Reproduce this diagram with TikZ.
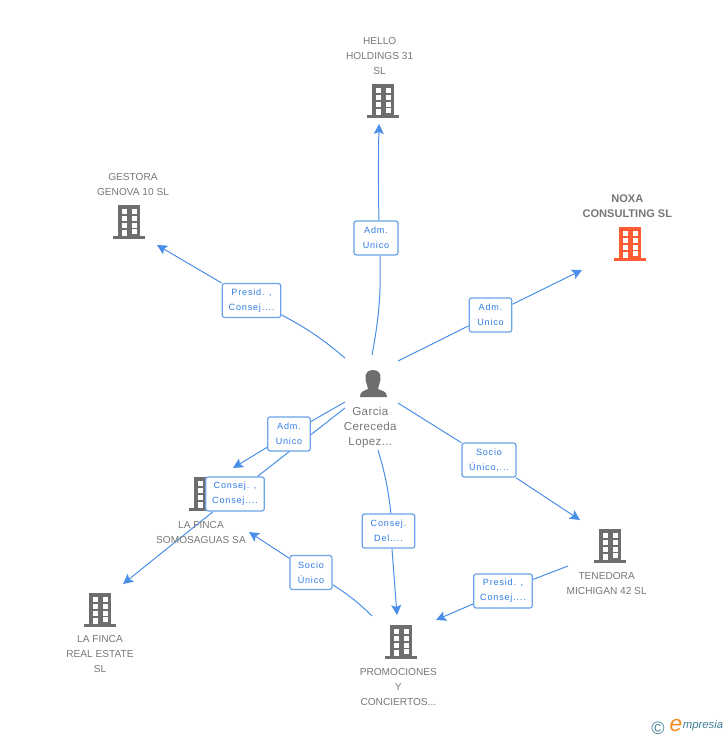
\documentclass[tikz,border=0pt]{standalone}
\usepackage{fontspec}
\setmainfont{Liberation Sans}
\newfontfamily\tagfont[LetterSpace=9]{Liberation Sans}
\newfontfamily\namefont[LetterSpace=3]{Liberation Sans}
\usepackage{xcolor}
\usetikzlibrary{arrows.meta, positioning, backgrounds}
\definecolor{linkblue}{HTML}{4A8FE7}
\definecolor{tagblue}{HTML}{2F7BE0}
\definecolor{tagedge}{HTML}{6CA3EA}
\definecolor{icongray}{HTML}{6E6E6E}
\definecolor{labelgray}{HTML}{777777}
\definecolor{iconorange}{HTML}{FF5C33}
\definecolor{logoteal}{HTML}{3F7F95}
\definecolor{logoorange}{HTML}{F28A1E}

\tikzset{
  pics/buildingicon/.style={code={
    \fill[#1] (-11,-17) rectangle (11,14);
    \fill[#1] (-16,14) rectangle (16,17);
    \foreach \yy in {-13,-6,1} {
      \fill[white] (-7.5,\yy) rectangle (-2.5,\yy+4.5);
      \fill[white] (2.5,\yy) rectangle (7.5,\yy+4.5);
    }
    \fill[white] (2.5,7) rectangle (7.5,11.5);
    \fill[white] (-7.5,8) rectangle (-2.5,14);
  }}
}

\begin{document}
\begin{tikzpicture}[
    x=0.75pt, y=-0.75pt,
    iconspot/.style={minimum width=24pt, minimum height=26pt, inner sep=0pt},
    company/.style={font=\fontsize{7.6}{11.25}\selectfont, text=labelgray, align=center, inner sep=0pt},
    tagbox/.style={draw=tagedge, line width=0.9pt, rounded corners=1.8pt, fill=white, text=tagblue, align=center,
      font=\tagfont\fontsize{6.8}{11.25}\selectfont, inner sep=0pt, minimum height=25.5pt},
    link/.style={draw=linkblue, line width=0.75pt},
    arrow/.style={link, -{Stealth[inset=1.5pt, length=7.5pt, width=7.5pt]}}
  ]
  \useasboundingbox (0,0) rectangle (728,740);

  \node (personspot) [iconspot] at (373,384) {};
  \fill[icongray] (373,370) .. controls (379,370) and (381,374) .. (380.5,379) .. controls (380,384) and (378,386) .. (378,389)
    .. controls (382,391) and (387,391) .. (387,397) -- (360,397)
    .. controls (360,391) and (364,391) .. (368,389) .. controls (368,386) and (366,384) .. (365.5,379)
    .. controls (365,374) and (367,370) .. (373,370) -- cycle;
  \node (person) [below=3.6pt of personspot, font=\namefont\fontsize{8.7}{11.4}\selectfont, text=labelgray, align=center, inner sep=0pt, xshift=-2pt] {Garcia\\Cereceda\\Lopez...};

  \node (hellospot) [iconspot] at (383,101) {};
  \pic at (hellospot) {buildingicon=icongray};
  \node (hello) [company, above=6.5pt of hellospot, xshift=-2.5pt] {HELLO\\HOLDINGS 31\\SL};

  \node (gestoraspot) [iconspot] at (129,222) {};
  \pic at (gestoraspot) {buildingicon=icongray};
  \node (gestora) [company, above=6.5pt of gestoraspot, xshift=3pt] {GESTORA\\GENOVA 10 SL};

  \node (noxaspot) [iconspot] at (630,244) {};
  \pic at (noxaspot) {buildingicon=iconorange};
  \node (noxa) [company, above=6.5pt of noxaspot, xshift=-2pt, font=\bfseries\fontsize{8.3}{11.25}\selectfont] {NOXA\\CONSULTING SL};

  \node (somosspot) [iconspot] at (205,494) {};
  \pic at (somosspot) {buildingicon=icongray};
  \node (somos) [company, below=7.2pt of somosspot, xshift=-3pt] {LA FINCA\\SOMOSAGUAS SA};

  \node (realspot) [iconspot] at (100,610) {};
  \pic at (realspot) {buildingicon=icongray};
  \node (real) [company, below=6pt of realspot] {LA FINCA\\REAL ESTATE\\SL};

  \node (tenedoraspot) [iconspot] at (610,546) {};
  \pic at (tenedoraspot) {buildingicon=icongray};
  \node (tenedora) [company, below=6.5pt of tenedoraspot, xshift=-2.5pt] {TENEDORA\\MICHIGAN 42 SL};

  \node (promospot) [iconspot] at (401,642) {};
  \pic at (promospot) {buildingicon=icongray};
  \node (promo) [company, below=6.2pt of promospot, xshift=-2pt] {PROMOCIONES\\Y\\CONCIERTOS...};

  \node (admhello) [tagbox, minimum width=33pt] at (376,238) {Adm.\\Unico};
  \node (presgestora) [tagbox, minimum width=44pt] at (251.5,300.5) {Presid. ,\\Consej....};
  \node (admnoxa) [tagbox, minimum width=32pt] at (490.5,315) {Adm.\\Unico};
  \node (sociotene) [tagbox, minimum width=40.5pt] at (489,460) {Socio\\Único,...};
  \node (admsomos) [tagbox, minimum width=32pt] at (289,434) {Adm.\\Unico};
  \node (consreal) [tagbox, minimum width=44pt] at (235,494) {Consej. ,\\Consej....};
  \node (consdel) [tagbox, minimum width=39.5pt] at (388.5,531) {Consej.\\Del....};
  \node (sociosomos) [tagbox, minimum width=31.5pt] at (311,572.5) {Socio\\Único};
  \node (prespromo) [tagbox, minimum width=44pt] at (503,591) {Presid. ,\\Consej....};

  \coordinate (hellofrom) at (372,355);
  \coordinate (helloto) at (379,124);
  \coordinate (gestorafrom) at (345,358);
  \coordinate (gestorato) at (157,245);
  \coordinate (noxafrom) at (398,361);
  \coordinate (noxato) at (582,270);
  \coordinate (tenefrom) at (398,403);
  \coordinate (teneto) at (580,520);
  \coordinate (somosfrom) at (345,402);
  \coordinate (somosto) at (233,468);
  \coordinate (realfrom) at (345,408);
  \coordinate (realto) at (123,584);
  \coordinate (delfrom) at (378,450);
  \coordinate (delto) at (397,615);
  \coordinate (sociofrom) at (372,616);
  \coordinate (socioto) at (249,532);
  \coordinate (presfrom) at (568,566);
  \coordinate (presto) at (436,620);

  \begin{scope}[on background layer]
    \draw[link] (hellofrom) to[bend right=6] ([xshift=3pt]admhello.south);
    \draw[arrow] ([xshift=2.2pt]admhello.north) to[bend left=1] (helloto);
    \draw[link] (gestorafrom) to[bend right=6] (presgestora);
    \draw[arrow] (presgestora) -- (gestorato);
    \draw[link] (noxafrom) -- (admnoxa);
    \draw[arrow] (admnoxa) -- (noxato);
    \draw[link] (tenefrom) -- (sociotene);
    \draw[arrow] (sociotene) -- (teneto);
    \draw[link] (somosfrom) -- (admsomos);
    \draw[arrow] (admsomos) -- (somosto);
    \draw[link] (realfrom) -- (consreal);
    \draw[arrow] (consreal) -- (realto);
    \draw[link] (delfrom) to[bend left=5] ([xshift=1.8pt]consdel.north);
    \draw[arrow] ([xshift=2.6pt]consdel.south) -- (delto);
    \draw[link] (sociofrom) to[bend right=6] (sociosomos);
    \draw[arrow] (sociosomos) -- (socioto);
    \draw[link] (presfrom) -- (prespromo);
    \draw[arrow] (prespromo) -- (presto);
  \end{scope}

  \node (copymark) [text=logoteal, font=\fontsize{13.5}{13.5}\selectfont, inner sep=0pt] at (658,728) {©};
  \node (logoe) [text=logoorange, font=\fontsize{17}{17}\selectfont\itshape, inner sep=0pt] at (676,726) {e};
  \node (logotext) [right=0pt of logoe, text=logoteal, font=\fontsize{8.5}{8.5}\selectfont\itshape, inner sep=0pt] {mpresia};
\end{tikzpicture}
\end{document}
